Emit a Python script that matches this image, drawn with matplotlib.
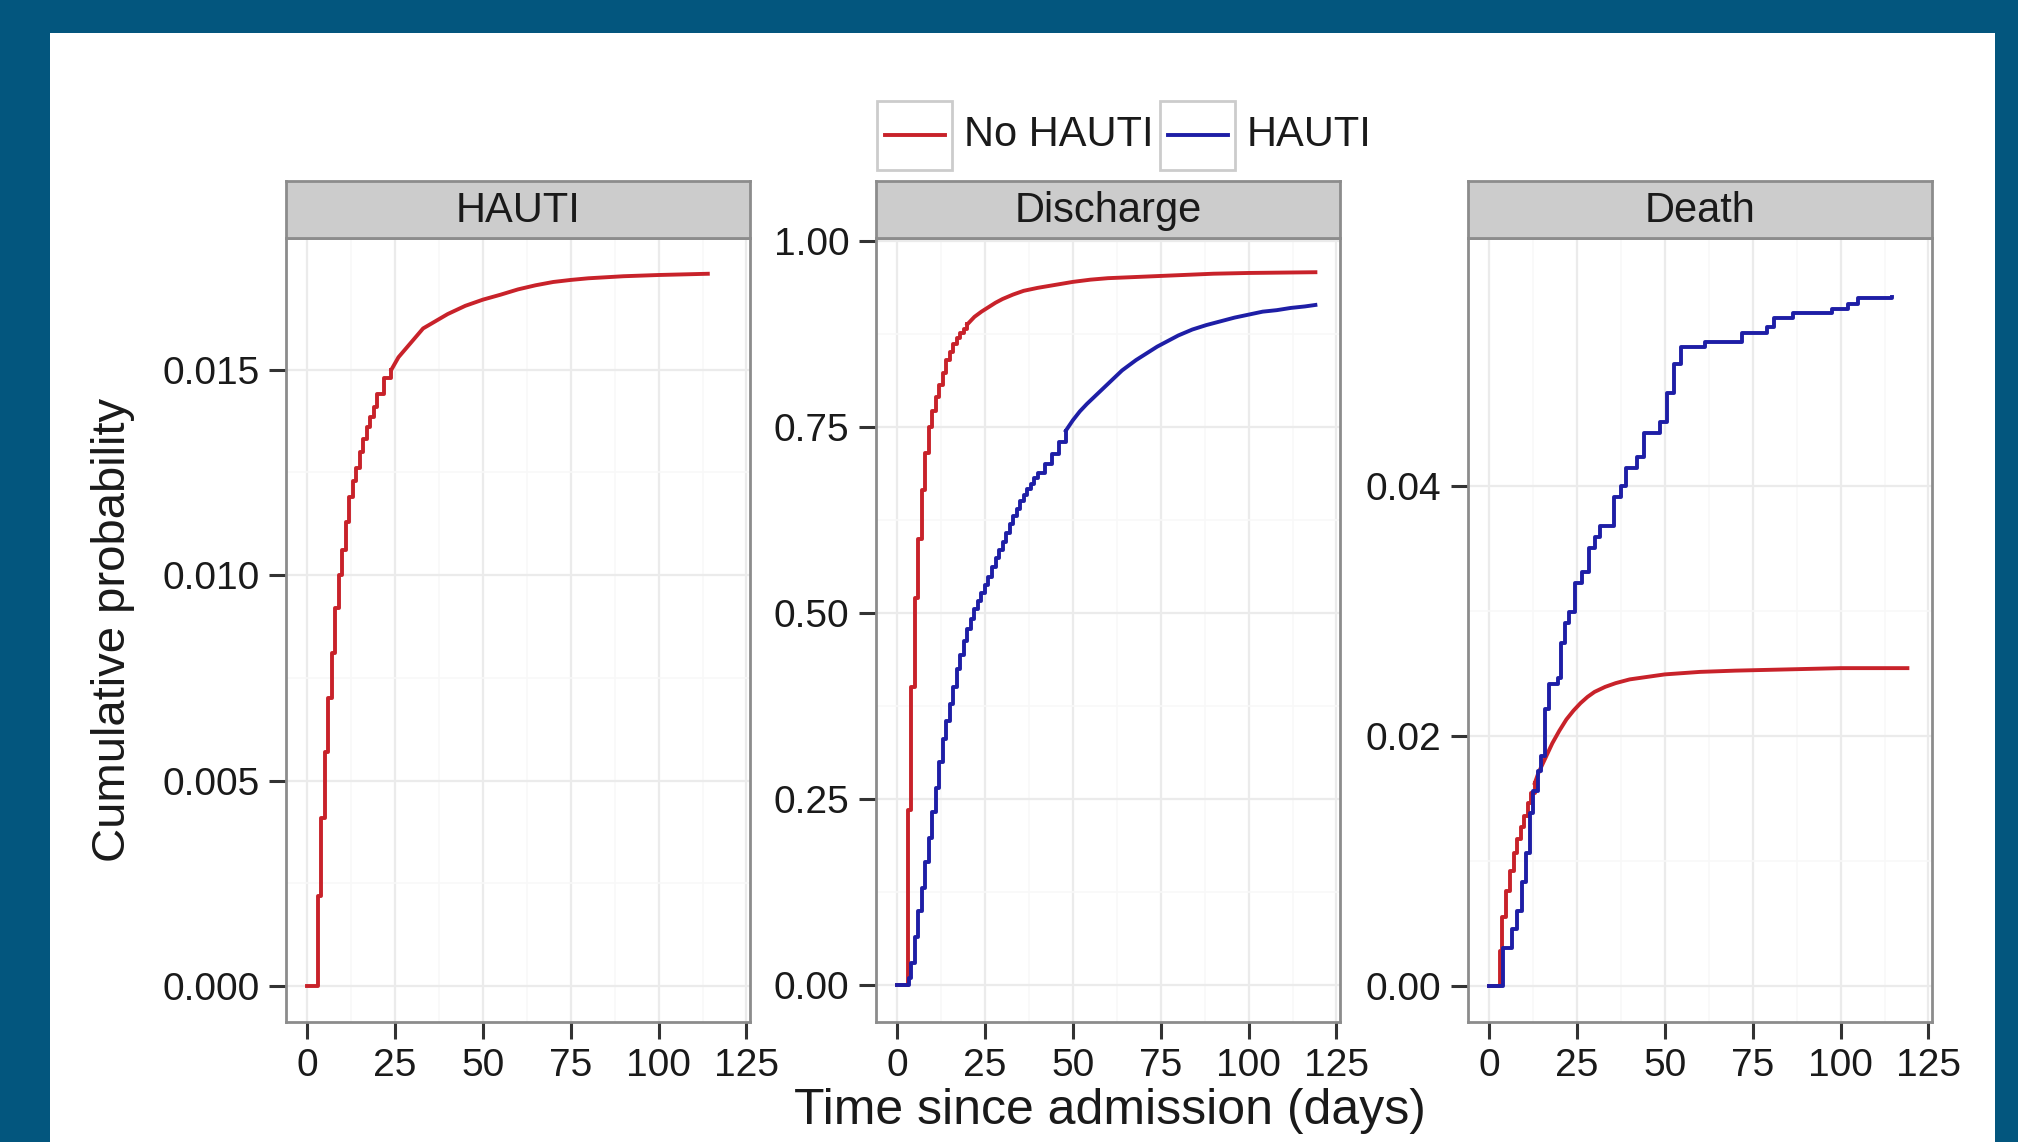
import numpy as np
import matplotlib
matplotlib.use('Agg')
import matplotlib.pyplot as plt
from matplotlib.patches import Rectangle
from matplotlib.lines import Line2D

plt.rcParams['font.family'] = ['Liberation Sans', 'DejaVu Sans']

###############################################################################
# Data
###############################################################################

panel_titles = ['HAUTI', 'Discharge', 'Death']
legend_labels = ['No HAUTI', 'HAUTI']
x_ticks = [0, 25, 50, 75, 100, 125]

# HAUTI (only the "No HAUTI" group can acquire HAUTI)
hauti_no_days = [0, 3, 4, 5, 6, 7, 8, 9, 10, 11, 12, 13, 14, 15, 16, 17, 18, 19,
                 20, 22, 24, 26, 28, 30, 33, 36, 40, 45, 50, 55, 60, 65, 70,
                 75, 80, 90, 100, 114]
hauti_no_vals = [0, 0.0022, 0.0041, 0.0057, 0.0070, 0.0081, 0.0092, 0.0100,
                 0.0106, 0.0113, 0.0119, 0.0123, 0.0126, 0.0130, 0.0133,
                 0.0136, 0.01385, 0.0141, 0.0144, 0.0148, 0.0150, 0.0153,
                 0.0155, 0.0157, 0.0160, 0.01615, 0.01635, 0.01655, 0.0167,
                 0.01682, 0.01695, 0.01705, 0.01713, 0.01718, 0.01722,
                 0.01727, 0.0173, 0.01733]

# Discharge
dis_no_days = [0, 3, 4, 5, 6, 7, 8, 9, 10, 11, 12, 13, 14, 15, 16, 17, 18, 19,
               20, 21, 22, 24, 26, 28, 30, 33, 36, 40, 45, 50, 55, 60, 65, 70,
               80, 90, 100, 119]
dis_no_vals = [0, 0.235, 0.40, 0.52, 0.60, 0.665, 0.715, 0.75, 0.772, 0.79,
               0.807, 0.822, 0.840, 0.851, 0.861, 0.869, 0.876, 0.882, 0.888,
               0.893, 0.898, 0.905, 0.911, 0.917, 0.922, 0.928, 0.933, 0.937,
               0.941, 0.945, 0.948, 0.950, 0.951, 0.952, 0.954, 0.956, 0.957,
               0.958]

dis_yes_days = [0, 3, 3.5, 4, 5, 6, 7, 8, 9, 10, 11, 12, 13, 14, 15, 16, 17, 18,
                19, 20, 21, 22, 23, 24, 25, 26, 27, 28, 29, 30, 31, 32, 33, 34,
                35, 36, 37, 38, 39, 40, 42, 44, 46, 48, 50, 52, 54, 56, 58, 60,
                62, 64, 66, 68, 70, 72, 74, 76, 78, 80, 84, 88, 92, 96, 100,
                104, 108, 112, 116, 119]
dis_yes_vals = [0, 0, 0.01, 0.03, 0.065, 0.10, 0.13, 0.165, 0.197, 0.232,
                0.265, 0.300, 0.330, 0.355, 0.378, 0.400, 0.425, 0.443, 0.462,
                0.478, 0.492, 0.505, 0.516, 0.527, 0.538, 0.549, 0.562, 0.574,
                0.585, 0.596, 0.608, 0.619, 0.630, 0.640, 0.650, 0.658, 0.666,
                0.673, 0.681, 0.688, 0.700, 0.714, 0.730, 0.745, 0.759, 0.771,
                0.781, 0.790, 0.799, 0.808, 0.817, 0.826, 0.833, 0.840, 0.846,
                0.852, 0.858, 0.863, 0.868, 0.873, 0.881, 0.887, 0.892, 0.897,
                0.901, 0.905, 0.907, 0.910, 0.912, 0.914]

# Death
death_no_days = [0, 3, 3.6, 4.7, 6, 7, 8, 9, 10, 11, 12, 13, 14, 15, 16, 17,
                 18, 19, 20, 22, 24, 26, 28, 30, 33, 36, 40, 45, 50, 60, 70,
                 85, 100, 119]
death_no_vals = [0, 0.0028, 0.0055, 0.0076, 0.0092, 0.0106, 0.0117, 0.0127,
                 0.0136, 0.0146, 0.0154, 0.0162, 0.0170, 0.0176, 0.0182,
                 0.0188, 0.0194, 0.0199, 0.0204, 0.0213, 0.0220, 0.0226,
                 0.0231, 0.0235, 0.0239, 0.0242, 0.0245, 0.0247, 0.0249,
                 0.0251, 0.0252, 0.0253, 0.0254, 0.0254]

death_yes_days = [0, 4, 6.5, 8, 9.3, 10.5, 11.5, 12.5, 14, 14.8, 15.8, 17,
                  19.5, 20.5, 21.6, 22.7, 24.5, 26.5, 28.5, 30, 31.5, 35.5,
                  37.5, 39, 42, 44, 48.5, 50.5, 52.5, 54.5, 61.5, 72, 79, 81,
                  86.5, 97.5, 102, 105, 114.7]
death_yes_vals = [0, 0.0030, 0.0045, 0.0060, 0.0083, 0.0106, 0.0138, 0.0156,
                  0.0172, 0.0184, 0.0221, 0.0241, 0.0246, 0.0274, 0.0290,
                  0.0299, 0.0322, 0.0331, 0.0350, 0.0359, 0.0368, 0.0391,
                  0.0400, 0.0414, 0.0423, 0.0442, 0.0451, 0.0474, 0.0497,
                  0.0511, 0.0515, 0.0522, 0.0527, 0.0534, 0.0538, 0.0541,
                  0.0545, 0.0550, 0.0551]

###############################################################################
# Styling
###############################################################################

W, H = 2018, 1142
BG = '#03567E'
RED = '#C8222A'
BLUE = '#1E1EA6'
BORDER = '#8C8C8C'
TXT = '#1a1a1a'


def fx(px):
    return px / W


def fy(py):
    return 1 - py / H


def draw_curve(ax, days, vals, col, step_until):
    # staircase where the estimate jumps visibly, plain line where it is smooth
    days = np.asarray(days, float)
    vals = np.asarray(vals, float)
    k = np.searchsorted(days, step_until, side='right')
    ax.step(days[:k], vals[:k], where='post', color=col, lw=2.8, zorder=3)
    if k < len(days):
        ax.plot(days[k - 1:], vals[k - 1:], color=col, lw=2.8, zorder=3,
                solid_joinstyle='round')


fig = plt.figure(figsize=(W / 100, H / 100), dpi=100, facecolor=BG)
fig.patches.append(Rectangle((fx(50), 0), fx(1995) - fx(50), fy(33),
                             transform=fig.transFigure, facecolor='white',
                             edgecolor='none', zorder=-5))

panels = [
    dict(left=286, series=[(hauti_no_days, hauti_no_vals, RED, 24)],
         ylim=(-0.00087, 0.0182), yticks=[0, 0.005, 0.010, 0.015], fmt='%.3f'),
    dict(left=876, series=[(dis_no_days, dis_no_vals, RED, 20),
                           (dis_yes_days, dis_yes_vals, BLUE, 48)],
         ylim=(-0.0498, 1.004), yticks=[0, 0.25, 0.5, 0.75, 1.0], fmt='%.2f'),
    dict(left=1468, series=[(death_no_days, death_no_vals, RED, 13),
                            (death_yes_days, death_yes_vals, BLUE, 200)],
         ylim=(-0.0029, 0.0598), yticks=[0, 0.02, 0.04], fmt='%.2f'),
]

pw = 464
top, bottom, strip_top = 238, 1022, 181

for title, p in zip(panel_titles, panels):
    ax = fig.add_axes([fx(p['left']), fy(bottom), pw / W, (bottom - top) / H])
    for days, vals, col, cut in p['series']:
        draw_curve(ax, days, vals, col, cut)
    ax.set_xlim(-6, 126)
    ax.set_ylim(*p['ylim'])
    ax.set_xticks(x_ticks)
    ax.set_xticks(np.array(x_ticks[:-1]) + 12.5, minor=True)
    yt = np.array(p['yticks'])
    ax.set_yticks(yt)
    ax.set_yticks(yt[:-1] + (yt[1] - yt[0]) / 2, minor=True)
    ax.set_yticklabels([p['fmt'] % v for v in yt])
    ax.grid(which='major', color='#EBEBEB', lw=1.6, zorder=0)
    ax.grid(which='minor', color='#F8F8F8', lw=1.2, zorder=0)
    ax.set_axisbelow(True)
    for s in ax.spines.values():
        s.set_color(BORDER)
        s.set_linewidth(2)
    ax.tick_params(which='major', length=12, width=2.2, color='#333333',
                   labelsize=28, labelcolor=TXT, pad=7)
    ax.tick_params(which='minor', length=0)

    sax = fig.add_axes([fx(p['left']), fy(top), pw / W, (top - strip_top) / H])
    sax.set_facecolor('#CCCCCC')
    sax.set_xticks([])
    sax.set_yticks([])
    for s in sax.spines.values():
        s.set_color(BORDER)
        s.set_linewidth(2)
    sax.text(0.5, 0.48, title, transform=sax.transAxes, ha='center',
             va='center', fontsize=30, color=TXT)

fig.text(fx(113), fy(630), 'Cumulative probability', rotation=90,
         ha='center', va='center', fontsize=34, color=TXT)
fig.text(fx(1110), fy(1124), 'Time since admission (days)', ha='center',
         va='baseline', fontsize=36, color=TXT)

# legend with ggplot-style key boxes
for label, col, bx in zip(legend_labels, [RED, BLUE], [877, 1160]):
    fig.patches.append(Rectangle((fx(bx), fy(170)), 75 / W, 69 / H,
                                 transform=fig.transFigure, facecolor='white',
                                 edgecolor='#CCCCCC', lw=2))
    fig.lines.append(Line2D([fx(bx + 8), fx(bx + 68)], [fy(135), fy(135)],
                            transform=fig.transFigure, color=col, lw=2.8))
    fig.text(fx(bx + 87), fy(135), label, ha='left', va='center',
             fontsize=30, color=TXT)

fig.savefig('out.png', dpi=100, facecolor=BG)
